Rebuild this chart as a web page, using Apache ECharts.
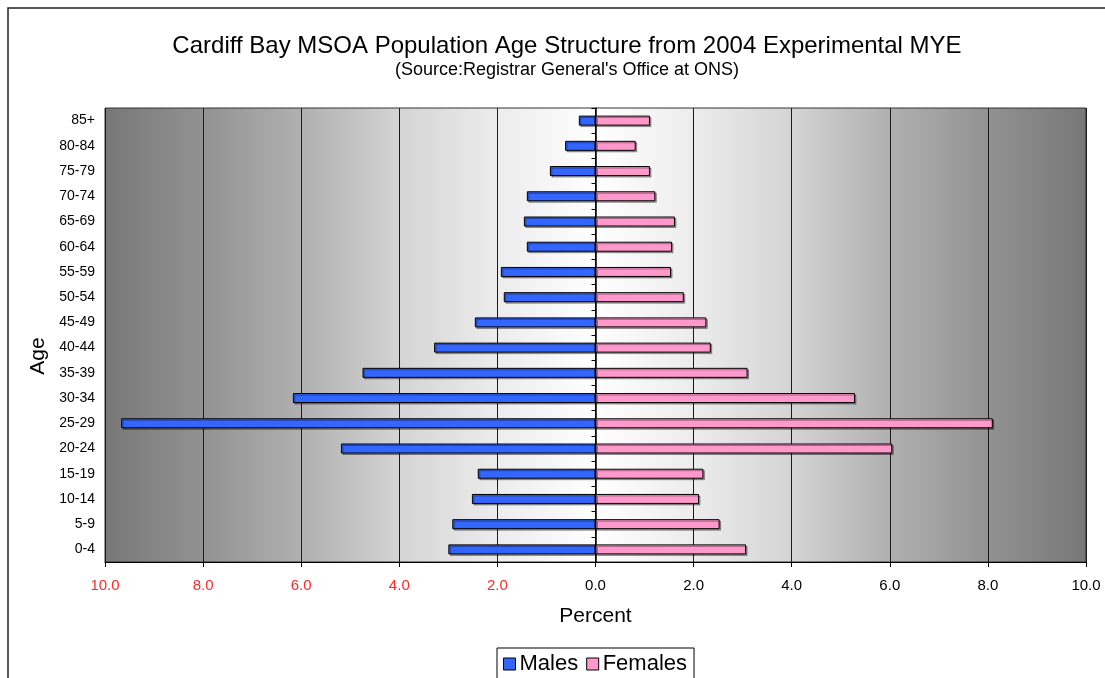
<!DOCTYPE html>
<html>
<head>
<meta charset="utf-8">
<script src="https://cdn.jsdelivr.net/npm/echarts@6/dist/echarts.min.js"></script>
<style>
html,body{margin:0;padding:0;background:#fff;}
#chart{width:1105px;height:678px;}
</style>
</head>
<body>
<div id="chart"></div>
<script>
var ageGroups = ['0-4','5-9','10-14','15-19','20-24','25-29','30-34','35-39','40-44','45-49','50-54','55-59','60-64','65-69','70-74','75-79','80-84','85+'];
var malesPct = [3.00, 2.92, 2.52, 2.40, 5.19, 9.67, 6.17, 4.75, 3.29, 2.46, 1.87, 1.93, 1.40, 1.46, 1.40, 0.93, 0.62, 0.34];
var femalesPct = [3.07, 2.53, 2.11, 2.20, 6.05, 8.10, 5.29, 3.10, 2.35, 2.26, 1.80, 1.54, 1.56, 1.62, 1.22, 1.11, 0.82, 1.11];
var xTicks = [-10, -8, -6, -4, -2, 0, 2, 4, 6, 8, 10];

var FONT = '"Liberation Sans", Arial, Helvetica, sans-serif';
var chart = echarts.init(document.getElementById('chart'), null, {renderer: 'canvas'});

var barShadow = {shadowColor: 'rgba(0,0,0,0.35)', shadowOffsetX: 1.5, shadowOffsetY: 1.5, shadowBlur: 0};

var option = {
  animation: false,
  backgroundColor: '#ffffff',
  textStyle: {fontFamily: FONT},
  title: [
    {text: 'Cardiff Bay MSOA Population Age Structure from 2004 Experimental MYE',
     left: 562, top: 29, textAlign: 'center',
     textStyle: {fontFamily: FONT, fontSize: 24, fontWeight: 'normal', color: '#000'}},
    {text: "(Source:Registrar General's Office at ONS)",
     left: 562, top: 56, textAlign: 'center',
     textStyle: {fontFamily: FONT, fontSize: 18, fontWeight: 'normal', color: '#000'}}
  ],
  graphic: [
    {type: 'rect', silent: true, z: -1,
     shape: {x: 8, y: 8, width: 1120, height: 700},
     style: {fill: 'none', stroke: '#222', lineWidth: 1.5}},
    {type: 'text', x: 38, y: 356, rotation: Math.PI / 2,
     style: {text: 'Age', font: '21px ' + FONT, fill: '#000', textAlign: 'center', textVerticalAlign: 'middle'}}
  ],
  legend: {
    data: ['Males', 'Females'],
    left: 497, top: 648,
    orient: 'horizontal',
    borderColor: '#000', borderWidth: 1,
    padding: [5, 7, 8, 6],
    itemWidth: 12, itemHeight: 12, itemGap: 8,
    icon: 'rect',
    itemStyle: {borderColor: '#000', borderWidth: 1},
    textStyle: {fontFamily: FONT, fontSize: 22, color: '#000', padding: [0, 0, 0, -1]}
  },
  grid: {
    left: 105, right: 19, top: 108, bottom: 116,
    show: true,
    borderColor: '#333', borderWidth: 1,
    backgroundColor: {
      type: 'linear', x: 0, y: 0, x2: 1, y2: 0,
      colorStops: [
        {offset: 0, color: '#777777'},
        {offset: 0.1, color: '#929292'},
        {offset: 0.2, color: '#b0b0b0'},
        {offset: 0.3, color: '#d4d4d4'},
        {offset: 0.4, color: '#ececec'},
        {offset: 0.5, color: '#ffffff'},
        {offset: 0.6, color: '#ececec'},
        {offset: 0.7, color: '#d4d4d4'},
        {offset: 0.8, color: '#b0b0b0'},
        {offset: 0.9, color: '#929292'},
        {offset: 1, color: '#777777'}
      ]
    }
  },
  xAxis: {
    type: 'value',
    min: xTicks[0], max: xTicks[xTicks.length - 1], interval: 2,
    name: 'Percent', nameLocation: 'middle', nameGap: 44,
    nameTextStyle: {fontFamily: FONT, fontSize: 21, color: '#000'},
    axisLine: {show: true, onZero: false, lineStyle: {color: '#000', width: 1}},
    axisTick: {show: true, length: 5, lineStyle: {color: '#000'}},
    splitLine: {show: true, lineStyle: {color: '#1a1a1a', width: 1}},
    axisLabel: {
      margin: 16,
      fontFamily: FONT, fontSize: 15,
      formatter: function (v) {
        return v < 0 ? '{r|' + Math.abs(v).toFixed(1) + '}' : '{b|' + v.toFixed(1) + '}';
      },
      rich: {
        r: {color: '#ff2a2a', fontFamily: FONT, fontSize: 15},
        b: {color: '#000', fontFamily: FONT, fontSize: 15}
      }
    }
  },
  yAxis: [
    {
      type: 'category', data: ageGroups,
      position: 'left',
      axisLine: {show: false, onZero: false},
      axisTick: {show: false},
      axisLabel: {margin: 10, fontFamily: FONT, fontSize: 14, color: '#000'},
      splitLine: {show: false}
    },
    {
      type: 'category', data: ageGroups,
      position: 'left',
      axisLine: {show: true, onZero: true, lineStyle: {color: '#000', width: 1.5}},
      axisTick: {show: true, length: 4, lineStyle: {color: '#000'}},
      axisLabel: {show: false},
      splitLine: {show: false}
    }
  ],
  series: [
    {
      name: 'Males', type: 'bar', yAxisIndex: 0,
      data: malesPct.map(function (v) { return -v; }),
      barWidth: 10, barGap: '-100%',
      itemStyle: Object.assign({color: '#3366ff', borderColor: '#000', borderWidth: 1}, barShadow),
      z: 3
    },
    {
      name: 'Females', type: 'bar', yAxisIndex: 0,
      data: femalesPct,
      barWidth: 10, barGap: '-100%',
      itemStyle: Object.assign({color: '#ff99cc', borderColor: '#000', borderWidth: 1}, barShadow),
      z: 3
    }
  ]
};
chart.setOption(option);
</script>
</body>
</html>
